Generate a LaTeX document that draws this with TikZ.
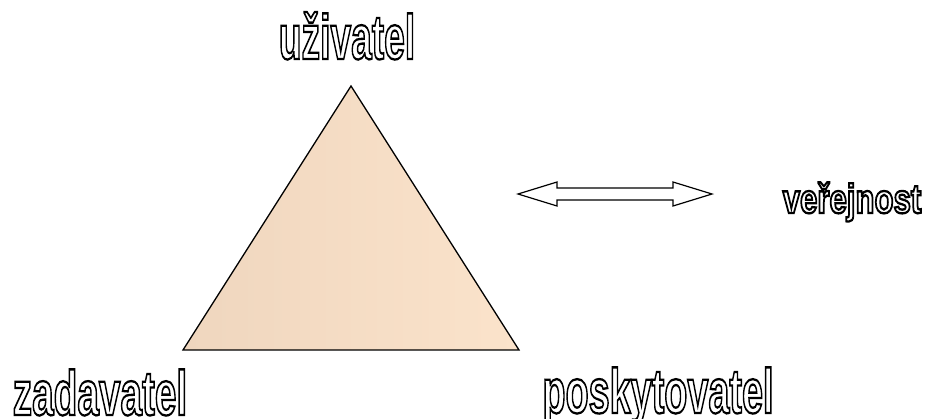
\documentclass[tikz,border=0pt]{standalone}
\usepackage{fontspec}
\setmainfont{Liberation Sans}
\newcommand{\outl}[1]{\special{pdf:literal direct 2 Tr 2.3 w 0 0 0 RG 1 1 1 rg}#1\special{pdf:literal direct 0 Tr 1 w 0 0 0 RG 0 0 0 rg}}
\newcommand{\hollow}[3]{\scalebox{#1}[1]{\fontsize{#2}{#2}\selectfont\bfseries\outl{#3}}}
\tikzset{
  lbl/.style={inner sep=0pt, anchor=base},
  tri/.style={draw=black, line width=1.3pt, line join=miter,
    left color={rgb,255:red,239;green,214;blue,190},
    right color={rgb,255:red,251;green,227;blue,203}},
  blockarrow/.style={draw=black, line width=1.2pt, fill=white, line join=miter}
}
\begin{document}
\begin{tikzpicture}[x=1pt,y=-1pt]
\useasboundingbox (0,0) rectangle (925,418);
% triangle
\coordinate (top) at (351,86);
\coordinate (bl) at (183,350);
\coordinate (br) at (519,350);
\path[tri] (top) -- (bl) -- (br) -- cycle;
% double block arrow
\coordinate (aL) at (518,194);
\coordinate (aR) at (712,194);
\draw[blockarrow] (aL) -- (557,182) -- (557,188) -- (673,188) -- (673,182)
  -- (aR) -- (673,206) -- (673,200) -- (557,200) -- (557,206) -- cycle;
% labels
\node[lbl] (uziv) at (347,59) {\hollow{0.59}{63}{uživatel}};
\node[lbl] (zad) at (100,415) {\hollow{0.615}{63}{zadavatel}};
\node[lbl] (posk) at (658,413) {\hollow{0.6}{63}{poskytovatel}};
\node[lbl] (ver) at (852,213) {\hollow{0.76}{41}{veřejnost}};
\end{tikzpicture}
\end{document}
